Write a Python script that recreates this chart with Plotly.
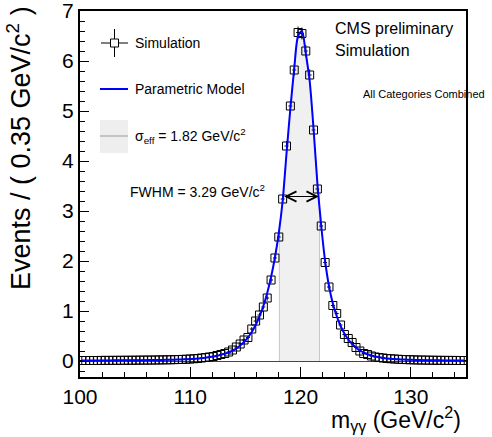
import numpy as np
import plotly.graph_objects as go

# ---------------- data ----------------
bin_width = 0.35
bin_x = [round(100.175 + bin_width * k, 3) for k in range(100)]

sim_y = [
    0.010, 0.010, 0.010, 0.010, 0.010, 0.012, 0.012, 0.012, 0.013, 0.013,
    0.014, 0.014, 0.015, 0.015, 0.016, 0.017, 0.018, 0.018, 0.019, 0.020,
    0.021, 0.022, 0.024, 0.025, 0.027, 0.030, 0.032, 0.035, 0.040, 0.045,
    0.050, 0.060, 0.070, 0.080, 0.090, 0.110, 0.130, 0.150, 0.180, 0.220,
    0.280, 0.340, 0.420, 0.470, 0.640, 0.800, 0.920, 1.080, 1.260, 1.620,
    2.060, 2.480, 3.240, 4.300, 5.100, 5.820, 6.570, 6.550, 6.200, 5.720,
    4.620, 3.440, 2.700, 1.970, 1.480, 1.110, 0.950, 0.720, 0.530, 0.450,
    0.370, 0.270, 0.200, 0.150, 0.130, 0.100, 0.080, 0.070, 0.060, 0.050,
    0.045, 0.040, 0.035, 0.030, 0.028, 0.025, 0.023, 0.020, 0.019, 0.018,
    0.016, 0.015, 0.014, 0.013, 0.012, 0.012, 0.011, 0.011, 0.010, 0.010,
]

sim_err = [
    0.005, 0.005, 0.005, 0.005, 0.005, 0.005, 0.005, 0.005, 0.005, 0.005,
    0.006, 0.006, 0.006, 0.006, 0.006, 0.006, 0.006, 0.006, 0.0065, 0.0065,
    0.007, 0.007, 0.007, 0.007, 0.008, 0.008, 0.008, 0.009, 0.009, 0.010,
    0.011, 0.012, 0.012, 0.013, 0.014, 0.016, 0.017, 0.018, 0.020, 0.022,
    0.025, 0.027, 0.030, 0.032, 0.038, 0.042, 0.045, 0.049, 0.053, 0.060,
    0.067, 0.074, 0.085, 0.097, 0.106, 0.113, 0.120, 0.120, 0.117, 0.112,
    0.101, 0.087, 0.077, 0.066, 0.057, 0.050, 0.046, 0.040, 0.034, 0.032,
    0.029, 0.024, 0.021, 0.018, 0.017, 0.015, 0.013, 0.012, 0.012, 0.011,
    0.010, 0.009, 0.009, 0.008, 0.008, 0.007, 0.007, 0.007, 0.006, 0.006,
    0.006, 0.006, 0.006, 0.005, 0.005, 0.005, 0.005, 0.005, 0.005, 0.005,
]

model_y = [
    0.010, 0.010, 0.010, 0.011, 0.011, 0.011, 0.012, 0.012, 0.013, 0.013,
    0.014, 0.014, 0.015, 0.015, 0.016, 0.017, 0.017, 0.018, 0.019, 0.020,
    0.021, 0.022, 0.024, 0.025, 0.027, 0.029, 0.032, 0.035, 0.039, 0.044,
    0.050, 0.058, 0.067, 0.078, 0.090, 0.105, 0.123, 0.145, 0.170, 0.205,
    0.250, 0.310, 0.380, 0.470, 0.580, 0.720, 0.890, 1.100, 1.360, 1.680,
    2.070, 2.560, 3.200, 4.150, 5.050, 5.850, 6.500, 6.600, 6.150, 5.600,
    4.650, 3.550, 2.700, 2.000, 1.500, 1.150, 0.900, 0.700, 0.550, 0.430,
    0.340, 0.270, 0.210, 0.170, 0.135, 0.110, 0.090, 0.075, 0.062, 0.052,
    0.045, 0.039, 0.034, 0.030, 0.027, 0.024, 0.022, 0.020, 0.018, 0.017,
    0.016, 0.015, 0.014, 0.013, 0.012, 0.012, 0.011, 0.011, 0.010, 0.010,
]

sigma_eff_lo = 118.08
sigma_eff_hi = 121.72
fwhm_lo = 118.37
fwhm_hi = 121.66
fwhm_level = 3.29

x_range = [100, 135]
y_range = [-0.32, 7.0]

FONT = "Liberation Sans, Arial, Helvetica, sans-serif"

# ---------------- layout geometry (pixels) ----------------
W, H = 492, 437
ML, MR, MT, MB = 80, 26, 11, 60
PW = W - ML - MR
PH = H - MT - MB


def px(xp):
    return (xp - ML) / PW


def py(yp):
    return (H - MB - yp) / PH


fig = go.Figure()

# sigma_eff band
band_x = [sigma_eff_lo, sigma_eff_lo]
band_y = [0, float(np.interp(sigma_eff_lo, bin_x, model_y))]
for xv, yv in zip(bin_x, model_y):
    if sigma_eff_lo < xv < sigma_eff_hi:
        band_x.append(xv)
        band_y.append(yv)
band_x += [sigma_eff_hi, sigma_eff_hi]
band_y += [float(np.interp(sigma_eff_hi, bin_x, model_y)), 0]

fig.add_trace(go.Scatter(
    x=band_x, y=band_y, mode="lines", fill="toself",
    fillcolor="rgb(240,240,240)",
    line=dict(color="rgb(200,200,200)", width=1),
    hoverinfo="skip", showlegend=False,
))

# simulation points
fig.add_trace(go.Scatter(
    x=bin_x, y=sim_y, mode="markers",
    marker=dict(symbol="square-open", size=8, color="black",
                line=dict(color="black", width=1)),
    error_x=dict(type="constant", value=bin_width / 2, color="black",
                 thickness=1, width=0),
    error_y=dict(type="data", array=sim_err, color="black",
                 thickness=1, width=0),
    showlegend=False,
))

# parametric model
fig.add_trace(go.Scatter(
    x=bin_x, y=model_y, mode="lines",
    line=dict(color="rgb(0,0,255)", width=2, shape="spline", smoothing=0.8),
    showlegend=False,
))

shapes = []
annotations = []

# ---- legend (drawn manually) ----
shapes.append(dict(type="line", xref="paper", yref="paper",
                   x0=px(101), x1=px(128), y0=py(43), y1=py(43),
                   line=dict(color="black", width=1)))
shapes.append(dict(type="line", xref="paper", yref="paper",
                   x0=px(114.5), x1=px(114.5), y0=py(29), y1=py(57),
                   line=dict(color="black", width=1)))
shapes.append(dict(type="rect", xref="paper", yref="paper",
                   x0=px(110.5), x1=px(118.5), y0=py(47), y1=py(39),
                   fillcolor="white", line=dict(color="black", width=1)))
shapes.append(dict(type="line", xref="paper", yref="paper",
                   x0=px(100), x1=px(128), y0=py(89), y1=py(89),
                   line=dict(color="rgb(0,0,255)", width=2)))
shapes.append(dict(type="rect", xref="paper", yref="paper",
                   x0=px(100), x1=px(128), y0=py(153), y1=py(120),
                   fillcolor="rgb(238,238,238)", line=dict(width=0)))
shapes.append(dict(type="line", xref="paper", yref="paper",
                   x0=px(100), x1=px(128), y0=py(136), y1=py(136),
                   line=dict(color="rgb(195,195,195)", width=2)))


def text(x, y, s, size, xanchor="left", yanchor="middle", angle=0):
    annotations.append(dict(
        xref="paper", yref="paper", x=x, y=y, text=s, showarrow=False,
        xanchor=xanchor, yanchor=yanchor, textangle=angle,
        font=dict(family=FONT, size=size, color="black"),
    ))


text(px(133), py(43), "Simulation", 14)
text(px(133), py(89), "Parametric Model", 14)
text(px(133), py(136), "σ<sub>eff</sub> = 1.82 GeV/c<sup>2</sup>", 14)

text(px(333), py(28), "CMS preliminary", 16)
text(px(333), py(50), "Simulation", 16)
text(px(361), py(94), "All Categories Combined", 11)

text(px(128), py(191), "FWHM = 3.29 GeV/c<sup>2</sup>", 14)

# axis titles
text(px(463), py(419), "m<sub>γγ</sub> (GeV/c<sup>2</sup>)", 23, xanchor="right")
text(px(19), py(4), "Events / ( 0.35 GeV/c<sup>2</sup> )", 27,
     xanchor="center", yanchor="top", angle=-90)

# FWHM double arrow
annotations.append(dict(
    x=fwhm_hi, y=fwhm_level, ax=fwhm_lo, ay=fwhm_level,
    xref="x", yref="y", axref="x", ayref="y", text="",
    showarrow=True, arrowhead=5, startarrowhead=5, arrowside="end+start",
    arrowsize=2, startarrowsize=2, arrowwidth=1, arrowcolor="black",
))

fig.update_layout(
    width=W, height=H,
    margin=dict(l=ML, r=MR, t=MT, b=MB, pad=0, autoexpand=False),
    paper_bgcolor="white", plot_bgcolor="white",
    font=dict(family=FONT, color="black"),
    shapes=shapes, annotations=annotations,
    showlegend=False,
)

fig.update_xaxes(
    range=x_range, tick0=100, dtick=10, ticks="inside", ticklen=10,
    tickwidth=1, tickcolor="black", automargin=False,
    ticklabeloverflow="allow",
    minor=dict(dtick=2, ticks="inside", ticklen=5, tickcolor="black", tickwidth=1),
    showgrid=False, zeroline=False, showline=True, linecolor="black",
    linewidth=2, mirror=True,
    tickfont=dict(family=FONT, size=21, color="black"),
)
fig.update_yaxes(
    range=y_range, tick0=0, dtick=1, ticks="inside", ticklen=9,
    tickwidth=1, tickcolor="black", automargin=False,
    ticklabeloverflow="allow",
    minor=dict(dtick=0.2, ticks="inside", ticklen=5, tickcolor="black", tickwidth=1),
    showgrid=False, zeroline=True, zerolinecolor="rgb(70,70,70)",
    zerolinewidth=1, showline=True, linecolor="black", linewidth=2,
    mirror=True,
    tickfont=dict(family=FONT, size=21, color="black"),
)

fig.write_html(
    "out.html",
    config={"displayModeBar": False},
    post_script="document.body.style.margin='0';document.body.style.overflow='hidden';",
)
